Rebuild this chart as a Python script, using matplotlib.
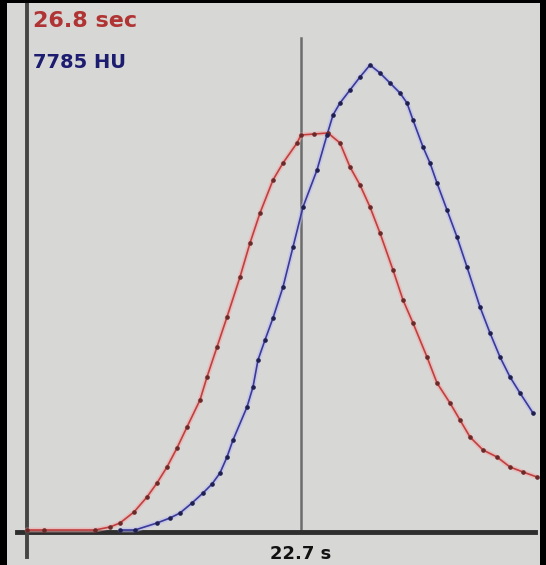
import matplotlib
matplotlib.use("Agg")
import matplotlib.pyplot as plt

# Time axis positions (arbitrary units) and enhancement values
red_x = [27, 44, 95, 110, 120, 134, 147, 157, 167, 177, 187, 200, 207, 217, 227, 240, 250, 260, 273, 283,
         297, 301, 314, 328, 340, 350, 360, 370, 380, 393, 403, 413, 427, 437, 450, 460, 470, 483, 497, 510, 523, 537]
red_y = [2, 2, 2, 5, 9, 20, 35, 49, 65, 84, 105, 132, 155, 185, 215, 255, 289, 319, 352, 369,
         389, 397, 398, 399, 389, 365, 347, 325, 299, 262, 232, 209, 175, 149, 129, 112, 95, 82, 75, 65, 60, 55]

blue_x = [120, 135, 157, 170, 180, 192, 203, 212, 220, 227, 233, 247, 253, 258, 265, 273, 283, 293, 303, 317,
          327, 333, 340, 350, 360, 370, 380, 390, 400, 407, 413, 423, 430, 437, 447, 457, 467, 480, 490, 500, 510, 520, 533]
blue_y = [2, 2, 9, 14, 19, 29, 39, 48, 59, 75, 92, 125, 145, 172, 192, 214, 245, 285, 325, 362,
          397, 417, 429, 442, 455, 467, 459, 449, 439, 429, 412, 385, 369, 349, 322, 295, 265, 225, 199, 175, 155, 139, 119]

marker_x = 301
marker_label = "22.7 s"
red_label = "26.8 sec"
blue_label = "7785 HU"

W, H = 546, 565
fig = plt.figure(figsize=(W / 100, H / 100), dpi=100, facecolor="black")
ax = fig.add_axes([7 / W, 0, 533 / W, 562 / H])
ax.set_facecolor("#d7d8d6")
ax.set_xlim(7, 540)
ax.set_ylim(-33, 529)
for s in ax.spines.values():
    s.set_visible(False)
ax.set_xticks([])
ax.set_yticks([])

# axes lines
ax.axhline(0, xmin=(17 - 7) / 533, xmax=(535 - 7) / 533, color="#2e2e2e", lw=3.5, zorder=2)
ax.axvline(27, ymin=(565 - 557) / 562, ymax=1, color="#454545", lw=2.8, zorder=2)
ax.axvline(marker_x, ymin=0.06, ymax=(565 - 38) / 562, color="#6c6c6c", lw=1.8, zorder=1)

# red curve
ax.plot(red_x, red_y, color="#f0a8a8", lw=3.5, alpha=0.55, zorder=3, solid_capstyle="round")
ax.plot(red_x, red_y, color="#c04040", lw=1.2, zorder=4)
ax.plot(red_x, red_y, ls="none", marker="o", ms=2.3, color="#6a2a2a", zorder=5)

# blue curve
ax.plot(blue_x, blue_y, color="#b8b8f0", lw=3.5, alpha=0.55, zorder=3, solid_capstyle="round")
ax.plot(blue_x, blue_y, color="#3a3a98", lw=1.2, zorder=4)
ax.plot(blue_x, blue_y, ls="none", marker="o", ms=2.3, color="#202050", zorder=5)

ax.text(0.048, 0.968, red_label, transform=ax.transAxes, color="#b03434",
        fontsize=16, fontweight="bold", va="center", ha="left", family="DejaVu Sans")
ax.text(0.048, 0.895, blue_label, transform=ax.transAxes, color="#1c1c70",
        fontsize=14, fontweight="bold", va="center", ha="left", family="DejaVu Sans")
ax.text(marker_x, -31, marker_label, color="#111111", fontsize=13, fontweight="bold",
        ha="center", va="bottom")

fig.savefig("out.png", dpi=100, facecolor="black")
